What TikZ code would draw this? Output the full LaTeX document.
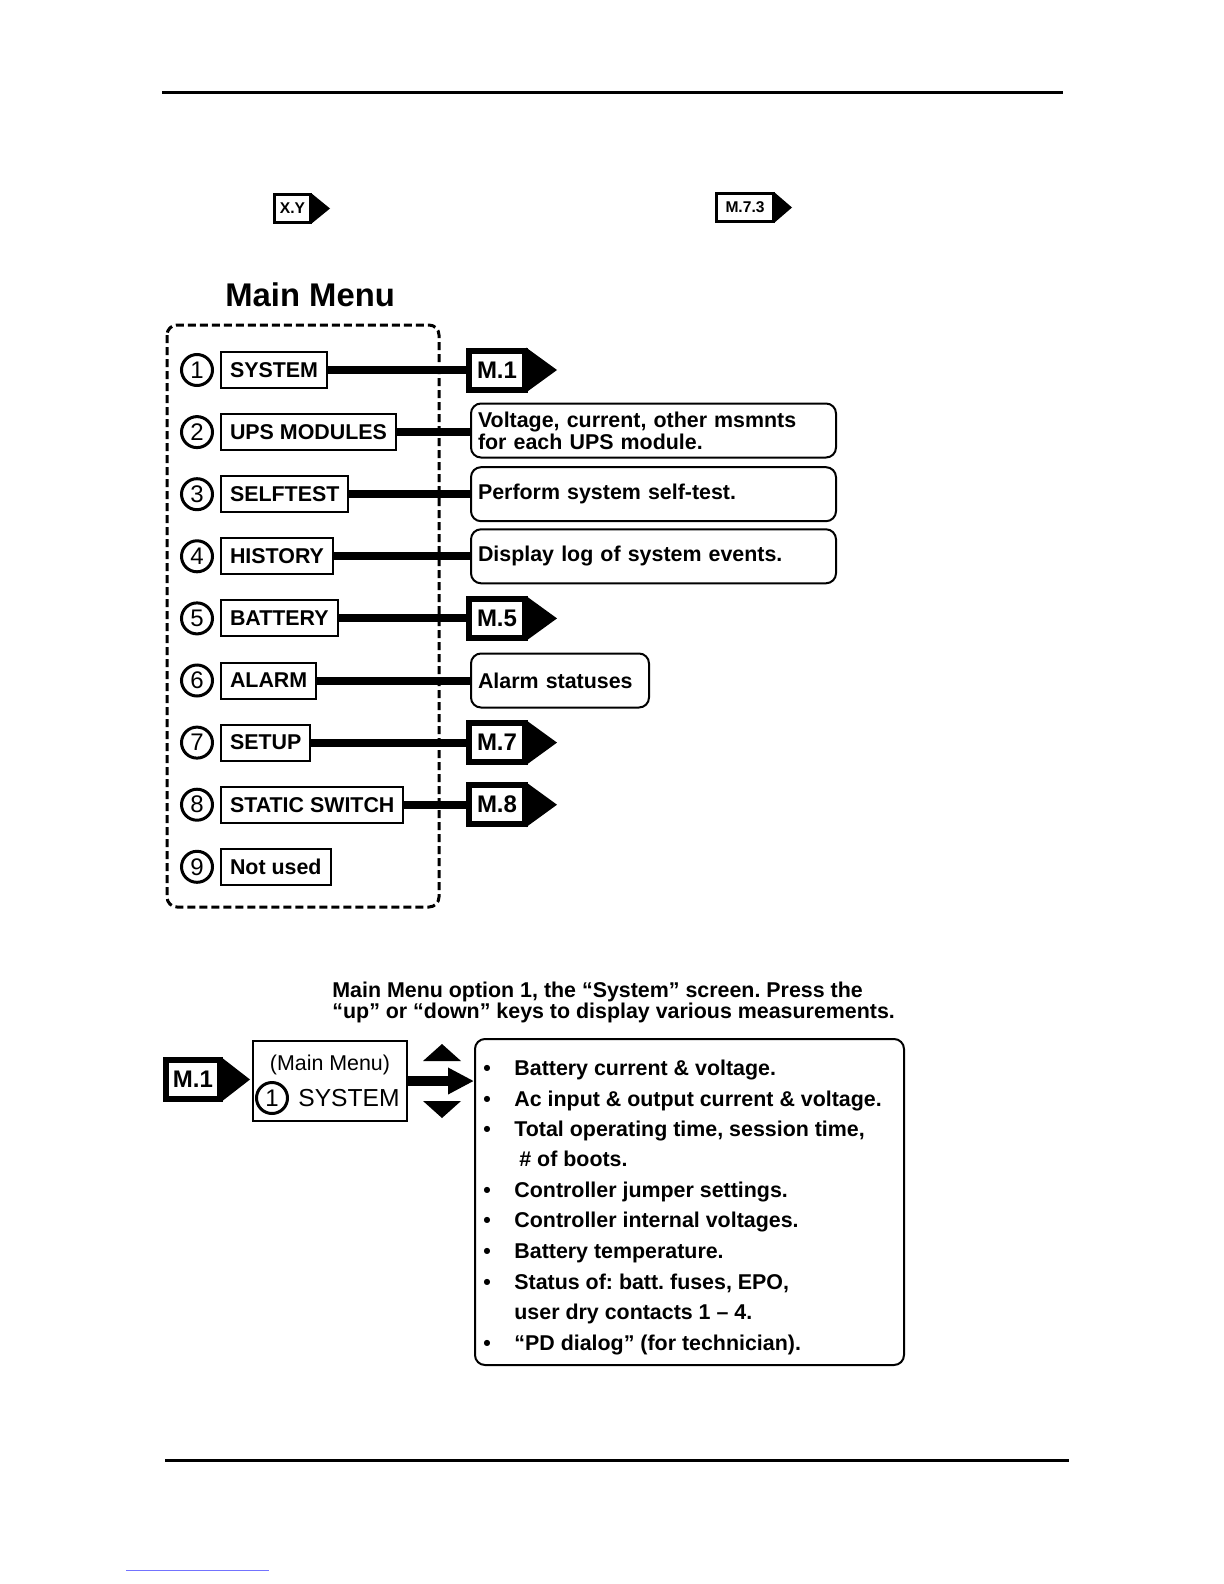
\documentclass[tikz,border=0pt]{standalone}
\usepackage{fontspec}
\setmainfont{Liberation Sans}
\usetikzlibrary{arrows.meta}
\frenchspacing
\begin{document}
\begin{tikzpicture}[
  x=0.5pt, y=-0.5pt,
  menubox/.style={draw, line width=1pt, anchor=west, minimum height=18pt, inner xsep=4.5pt, inner ysep=0pt, font=\fontsize{10.7}{12}\selectfont\bfseries},
  numcirc/.style={circle, draw, line width=1.5pt, minimum size=15.5pt, inner sep=0pt, font=\fontsize{12}{12}\selectfont},
  tagbox/.style={draw, line width=3pt, fill=white, minimum width=28pt, minimum height=19.5pt, inner sep=0pt, font=\fontsize{12}{12}\selectfont\bfseries},
  tagsmall/.style={draw, line width=1.5pt, fill=white, minimum height=14pt, inner sep=0pt, font=\fontsize{7.8}{8}\selectfont\bfseries},
  descbox/.style={draw, line width=1pt, rounded corners=5pt, anchor=west, minimum height=27pt, align=left, inner xsep=3.5pt, inner ysep=0pt, font=\fontsize{10.7}{11}\selectfont\bfseries},
  linkline/.style={line width=4pt},
  dashframe/.style={line width=1.5pt, dash pattern=on 4pt off 2pt, rounded corners=5pt},
  rule/.style={line width=1.5pt},
  bulletdot/.style={anchor=base, inner sep=0pt, font=\fontsize{10.7}{12}\selectfont\bfseries},
  bullettext/.style={anchor=base west, inner sep=0pt, font=\fontsize{10.7}{12}\selectfont\bfseries},
  plaintext/.style={inner sep=0pt, font=\fontsize{10.7}{12}\selectfont}
]
\useasboundingbox (0,0) rectangle (1224,1584);

% rules
\draw[rule] (162,93) -- (1063,93);
\draw[rule] (165,1460) -- (1069,1460);
\draw[blue!55, line width=0.5pt] (126,1570) -- (269,1570);

% top sample tags
\node[tagsmall, minimum width=18pt] (txy) at (292.5,208.5) {X.Y};
\fill ([xshift=-0.5pt]txy.north east) -- ([xshift=9pt]txy.east) -- ([xshift=-0.5pt]txy.south east) -- cycle;
\node[tagsmall, minimum width=28.5pt] (tm73) at (745,207.5) {M.7.3};
\fill ([xshift=-0.5pt]tm73.north east) -- ([xshift=8.5pt]tm73.east) -- ([xshift=-0.5pt]tm73.south east) -- cycle;

% heading
\node[anchor=base west, inner sep=0pt, font=\fontsize{16.4}{18}\selectfont\bfseries] (head) at (225,306) {Main Menu};

% dashed frame
\draw[dashframe] (167,325) rectangle (439,907);

% circles
\node[numcirc] (c1) at (197,370) {1};
\node[numcirc] (c2) at (197,432.1) {2};
\node[numcirc] (c3) at (197,494.2) {3};
\node[numcirc] (c4) at (197,556.3) {4};
\node[numcirc] (c5) at (197,618.4) {5};
\node[numcirc] (c6) at (197,680.5) {6};
\node[numcirc] (c7) at (197,742.6) {7};
\node[numcirc] (c8) at (197,804.7) {8};
\node[numcirc] (c9) at (197,866.8) {9};

% menu boxes
\node[menubox] (m1) at (220,370) {SYSTEM};
\node[menubox] (m2) at (220,432.1) {UPS MODULES};
\node[menubox] (m3) at (220,494.2) {SELFTEST};
\node[menubox] (m4) at (220,556.3) {HISTORY};
\node[menubox] (m5) at (220,618.4) {BATTERY};
\node[menubox] (m6) at (220,680.5) {ALARM};
\node[menubox] (m7) at (220,742.6) {SETUP};
\node[menubox] (m8) at (220,804.7) {STATIC SWITCH};
\node[menubox] (m9) at (220,866.8) {Not used};

% targets
\node[tagbox] (t1) at (497,370) {M.1};
\node[descbox, text width=175.5pt] (d2) at (470,430.5) {Voltage, current, other msmnts\\for each UPS module.};
\node[descbox, text width=175.5pt] (d3) at (470,494.2) {Perform system self-test.};
\node[descbox, text width=175.5pt] (d4) at (470,556.3) {Display log of system events.};
\node[tagbox] (t5) at (497,618.4) {M.5};
\node[descbox, text width=82pt] (d6) at (470,680.5) {Alarm statuses};
\node[tagbox] (t7) at (497,742.6) {M.7};
\node[tagbox] (t8) at (497,804.7) {M.8};

\foreach \t in {t1,t5,t7,t8}{
  \fill ([xshift=-1pt]\t.north east) -- ([xshift=14.5pt]\t.east) -- ([xshift=-1pt]\t.south east) -- cycle;
}

% connectors
\draw[linkline] (m1.east) -- (t1.west);
\draw[linkline] (m2.east) -- (m2.east -| d2.west);
\draw[linkline] (m3.east) -- (d3.west);
\draw[linkline] (m4.east) -- (d4.west);
\draw[linkline] (m5.east) -- (t5.west);
\draw[linkline] (m6.east) -- (d6.west);
\draw[linkline] (m7.east) -- (t7.west);
\draw[linkline] (m8.east) -- (t8.west);

% caption
\node[bullettext] (cap1) at (332,997) {Main Menu option 1, the “System” screen. Press the};
\node[bullettext] (cap2) at (332,1018) {“up” or “down” keys to display various measurements.};

% bottom section
\node[tagbox, minimum width=27pt] (bm1) at (193,1079.5) {M.1};
\fill ([xshift=-1pt]bm1.north east) -- ([xshift=13.5pt]bm1.east) -- ([xshift=-1pt]bm1.south east) -- cycle;

\node[draw, line width=1pt, minimum width=77pt, minimum height=40pt, inner sep=0pt] (sysbox) at (330,1081) {};
\node[plaintext] (mmlabel) at (330,1065) {(Main Menu)};
\node[numcirc] (bc1) at (272,1098) {1};
\node[plaintext, anchor=west, font=\fontsize{12.3}{13}\selectfont] (syslabel) at (298,1098) {SYSTEM};

\node[draw, line width=1pt, rounded corners=5pt, minimum width=214.5pt, minimum height=163pt, inner sep=0pt] (listbox) at (689.5,1202) {};

\draw[line width=5pt, -{Triangle[length=13pt,width=12.5pt]}] (sysbox.east) -- (sysbox.east -| listbox.west);
\fill (423,1061) -- (442,1044) -- (461,1061) -- cycle;
\fill (423,1101) -- (442,1118) -- (461,1101) -- cycle;

\foreach \y/\n in {1068/1,1099/2,1129/3,1190/5,1220/6,1251/7,1282/8,1343/10}{
  \node[bulletdot] (dot\n) at (487,\y+7.5) {•};
}
\node[bullettext] (l1) at (514,1075.5) {Battery current \& voltage.};
\node[bullettext] (l2) at (514,1106.5) {Ac input \& output current \& voltage.};
\node[bullettext] (l3) at (514,1136.5) {Total operating time, session time,};
\node[bullettext] (l4) at (519,1166.5) {\# of boots.};
\node[bullettext] (l5) at (514,1197.5) {Controller jumper settings.};
\node[bullettext] (l6) at (514,1227.5) {Controller internal voltages.};
\node[bullettext] (l7) at (514,1258.5) {Battery temperature.};
\node[bullettext] (l8) at (514,1289.5) {Status of: batt. fuses, EPO,};
\node[bullettext] (l9) at (514,1319.5) {user dry contacts 1 – 4.};
\node[bullettext] (l10) at (514,1350.5) {“PD dialog” (for technician).};
\end{tikzpicture}
\end{document}
